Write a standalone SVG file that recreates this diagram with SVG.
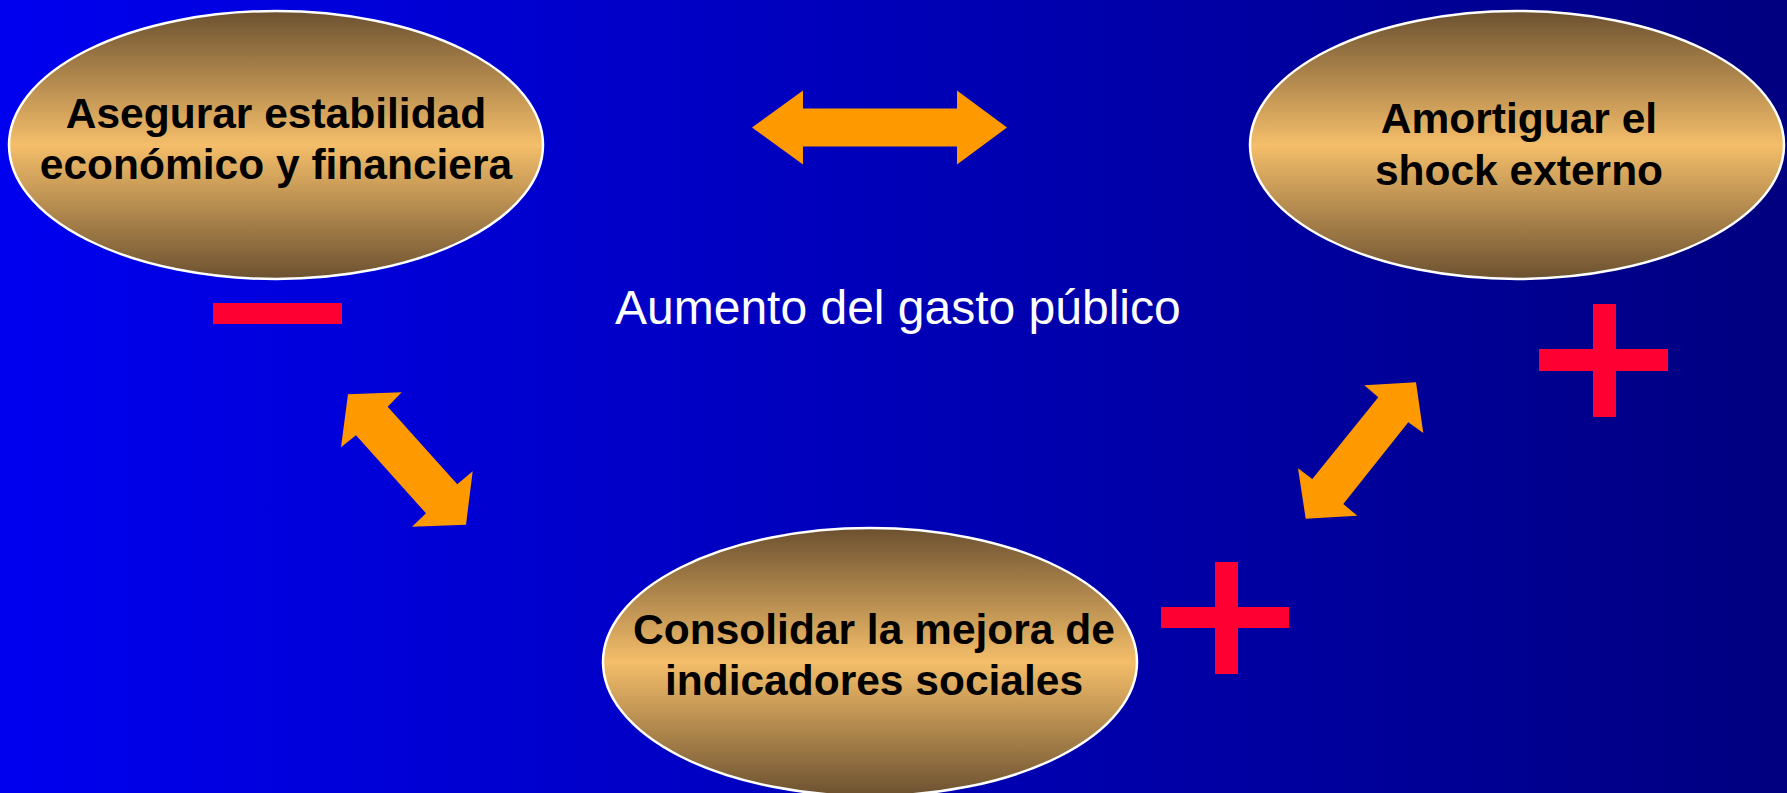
<svg xmlns="http://www.w3.org/2000/svg" width="1787" height="793" viewBox="0 0 1787 793">
  <defs>
    <linearGradient id="bg" x1="0" y1="0" x2="1" y2="0">
      <stop offset="0" stop-color="#0000F0"/>
      <stop offset="1" stop-color="#000080"/>
    </linearGradient>
    <linearGradient id="gold" x1="0" y1="0" x2="0" y2="1">
      <stop offset="0" stop-color="#6C5130"/>
      <stop offset="0.5" stop-color="#F4BE6A"/>
      <stop offset="1" stop-color="#6C5130"/>
    </linearGradient>
    <style>
      .node ellipse { fill: url(#gold); stroke: #FFFFFF; stroke-width: 2.5; }
      .node text { font-family: "Liberation Sans", Arial, sans-serif; font-weight: bold; font-size: 42.5px; fill: #000000; text-anchor: middle; }
      .arrow { fill: #FF9900; }
      .sign { fill: #FF0033; }
      .label { font-family: "Liberation Sans", Arial, sans-serif; font-size: 48px; fill: #FFFFFF; }
    </style>
  </defs>
  <rect x="0" y="0" width="1787" height="793" fill="url(#bg)"/>

  <g id="node-estabilidad" class="node">
    <ellipse cx="276" cy="145" rx="267" ry="134"/>
    <text x="276" y="128">Asegurar estabilidad</text>
    <text x="276" y="179">económico y financiera</text>
  </g>

  <g id="node-shock" class="node">
    <ellipse cx="1517" cy="145" rx="267" ry="134"/>
    <text x="1519" y="133">Amortiguar el</text>
    <text x="1519" y="185">shock externo</text>
  </g>

  <g id="node-sociales" class="node">
    <ellipse cx="870" cy="662" rx="267" ry="134"/>
    <text x="874" y="644">Consolidar la mejora de</text>
    <text x="874" y="695">indicadores sociales</text>
  </g>

  <g id="connectors">
    <polygon class="arrow" points="752,127.5 803,90.5 803,108.5 957,108.5 957,90.5 1007,127.5 957,164.5 957,146.5 803,146.5 803,164.5"/>
    <polygon class="arrow" points="348,394.3 401.7,392.3 387.7,406.7 457.3,484.3 472.7,471.3 466,524.7 412,526.7 426,513.3 356,435.3 341,447.3"/>
    <polygon class="arrow" points="1416,382.3 1423.3,433 1408.3,422.3 1343.3,504 1357.3,515.7 1305.7,518.7 1298,468.3 1312.3,479 1378.3,397.3 1364.3,385.3"/>
  </g>

  <g id="signs">
    <rect class="sign" x="213" y="303" width="129" height="21"/>
    <rect class="sign" x="1593" y="304" width="23" height="113"/>
    <rect class="sign" x="1539" y="349" width="129" height="22"/>
    <rect class="sign" x="1215" y="562" width="23" height="112"/>
    <rect class="sign" x="1161" y="607" width="128" height="21"/>
  </g>

  <text id="label-gasto" class="label" x="615" y="324">Aumento del gasto público</text>
</svg>
